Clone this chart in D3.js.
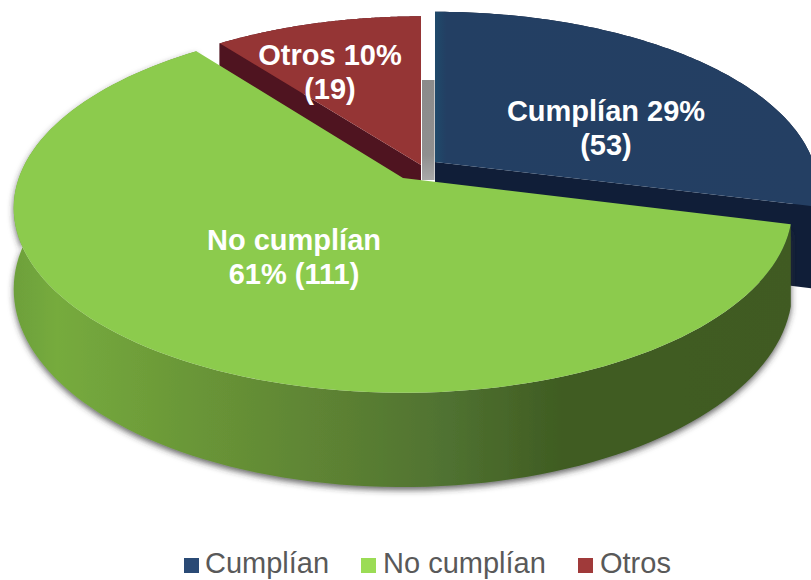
<!DOCTYPE html>
<html>
<head>
<meta charset="utf-8">
<script src="https://cdn.jsdelivr.net/npm/d3@7"></script>
<style>
  html, body { margin: 0; padding: 0; background: #fff; }
  svg { display: block; }
  text { font-family: "Liberation Sans", Arial, sans-serif; }
</style>
</head>
<body>
<div id="chart"></div>
<script>
// data
const categories = ['Cumplían', 'No cumplían', 'Otros'];
const counts = [53, 111, 19];
const labelLines = [
    ['Cumplían 29%', '(53)'],
    ['No cumplían', '61% (111)'],
    ['Otros 10%', '(19)']
];

// colours
const topColors = ['#243f63', '#8ccb4d', '#953535'];
const wallColors = ['#101e38', '#557a2e', '#4f1420'];
const legendColors = ['#2a4a75', '#9bdc55', '#a03a3a'];

// layout of each slice: where its apex lands, how big it is, where the label goes
const apex = [[435, 162], [403, 178], [421, 165]];
const sliceScaleX = [0.97, 0.985, 0.96];
const sliceScaleY = [0.97, 1, 0.96];
const labelOffset = [[171, -41], [-109, 72], [-91, -100]];
const legendX = [184, 361, 578];
const legendTextX = [205, 383, 600];
const legendBaseline = 573;

const width = 811, height = 580;
const rx = 390, ry = 180, depth = 79, persp = 0.162;

const svg = d3.select('#chart').append('svg')
    .attr('width', width)
    .attr('height', height);

const defs = svg.append('defs');

const wallGrad = defs.append('linearGradient')
    .attr('id', 'greenWall')
    .attr('gradientUnits', 'userSpaceOnUse')
    .attr('x1', 10).attr('x2', 800).attr('y1', 0).attr('y2', 0);
[[0, '#6c9f3a'], [0.06, '#76ab3e'], [0.2, '#6c9a38'], [0.38, '#5f8534'],
 [0.56, '#4f7130'], [0.7, '#3f5c22'], [1, '#3f5a22']].forEach(function(s) {
    wallGrad.append('stop').attr('offset', s[0]).attr('stop-color', s[1]);
});

const blueGrad = defs.append('linearGradient')
    .attr('id', 'blueTop')
    .attr('gradientUnits', 'userSpaceOnUse')
    .attr('x1', 435).attr('x2', 811).attr('y1', 0).attr('y2', 0);
[[0, '#1f4a6b'], [0.03, '#233f63'], [1, '#243f63']].forEach(function(s) {
    blueGrad.append('stop').attr('offset', s[0]).attr('stop-color', s[1]);
});

const gapGrad = defs.append('linearGradient')
    .attr('id', 'gapShadow')
    .attr('x1', 0).attr('x2', 0).attr('y1', 0).attr('y2', 1);
[[0, '#8b8b8b'], [0.75, '#8f8f8f'], [1, '#a9a9a9']].forEach(function(s) {
    gapGrad.append('stop').attr('offset', s[0]).attr('stop-color', s[1]);
});

const shadow = defs.append('filter')
    .attr('id', 'wallShadow')
    .attr('x', '-5%').attr('y', '-5%').attr('width', '110%').attr('height', '115%');
shadow.append('feDropShadow')
    .attr('dx', 0).attr('dy', 3)
    .attr('stdDeviation', 3)
    .attr('flood-color', '#333')
    .attr('flood-opacity', 0.75);

const color = d3.scaleOrdinal().domain(categories).range(topColors);
const wallColor = d3.scaleOrdinal().domain(categories).range(wallColors);
const legendColor = d3.scaleOrdinal().domain(categories).range(legendColors);

const pie = d3.pie().sort(null).value(function(d) { return d; });
const slices = pie(counts);

// disk coordinates to screen, with a bit of perspective. z = 0 top face, z = 1 bottom
function project(i, angle, r, z) {
    const u = Math.sin(angle) * r;
    const v = -Math.cos(angle) * r;
    const w = 1 - persp * v;
    return [
        apex[i][0] + sliceScaleX[i] * rx * u / w,
        apex[i][1] + (sliceScaleY[i] * ry * v + z * depth) / w
    ];
}

function arcPoints(i, d, z) {
    return d3.range(0, 121).map(function(k) {
        const a = d.startAngle + (d.endAngle - d.startAngle) * k / 120;
        return project(i, a, 1, z);
    });
}

const line = d3.line();

function topPath(i, d) {
    return line([project(i, 0, 0, 0)].concat(arcPoints(i, d, 0))) + 'Z';
}

function outerWallPath(i, d) {
    return line(arcPoints(i, d, 0).concat(arcPoints(i, d, 1).reverse())) + 'Z';
}

function cutPath(i, angle) {
    return line([
        project(i, 0, 0, 0), project(i, angle, 1, 0),
        project(i, angle, 1, 1), project(i, 0, 0, 1)
    ]) + 'Z';
}

// back slices first, the green one goes over them
const g = svg.append('g');
[0, 2].forEach(function(i) {
    const d = slices[i];
    const sl = g.append('g').attr('class', 'slice');
    sl.append('path').attr('d', outerWallPath(i, d)).attr('fill', wallColor(categories[i]));
    sl.append('path').attr('d', cutPath(i, d.startAngle)).attr('fill', wallColor(categories[i]));
    sl.append('path').attr('d', cutPath(i, d.endAngle)).attr('fill', wallColor(categories[i]));
    sl.append('path').attr('d', topPath(i, d))
        .attr('fill', i === 0 ? 'url(#blueTop)' : color(categories[i]));
});

// grey shadow in the gap between red and blue
g.append('rect')
    .attr('x', 422).attr('y', 80)
    .attr('width', 12.5).attr('height', 100)
    .attr('fill', 'url(#gapShadow)');

const green = g.append('g').attr('class', 'slice');
green.append('path')
    .attr('d', outerWallPath(1, slices[1]))
    .attr('fill', 'url(#greenWall)')
    .attr('filter', 'url(#wallShadow)');
green.append('path')
    .attr('d', topPath(1, slices[1]))
    .attr('fill', color(categories[1]));

// labels
labelLines.forEach(function(lines, i) {
    const t = svg.append('text')
        .attr('text-anchor', 'middle')
        .attr('font-size', 29)
        .attr('font-weight', 'bold')
        .attr('fill', '#fff');
    lines.forEach(function(l, k) {
        t.append('tspan')
            .attr('x', apex[i][0] + labelOffset[i][0])
            .attr('y', apex[i][1] + labelOffset[i][1] + k * 34)
            .text(l);
    });
});

// legend
const legend = svg.append('g').attr('class', 'legend');
categories.forEach(function(c, i) {
    legend.append('rect')
        .attr('x', legendX[i]).attr('y', legendBaseline - 15)
        .attr('width', 15).attr('height', 15)
        .attr('fill', legendColor(c));
    legend.append('text')
        .attr('x', legendTextX[i]).attr('y', legendBaseline)
        .attr('font-size', 29)
        .attr('fill', '#595959')
        .text(c);
});
</script>
</body>
</html>
